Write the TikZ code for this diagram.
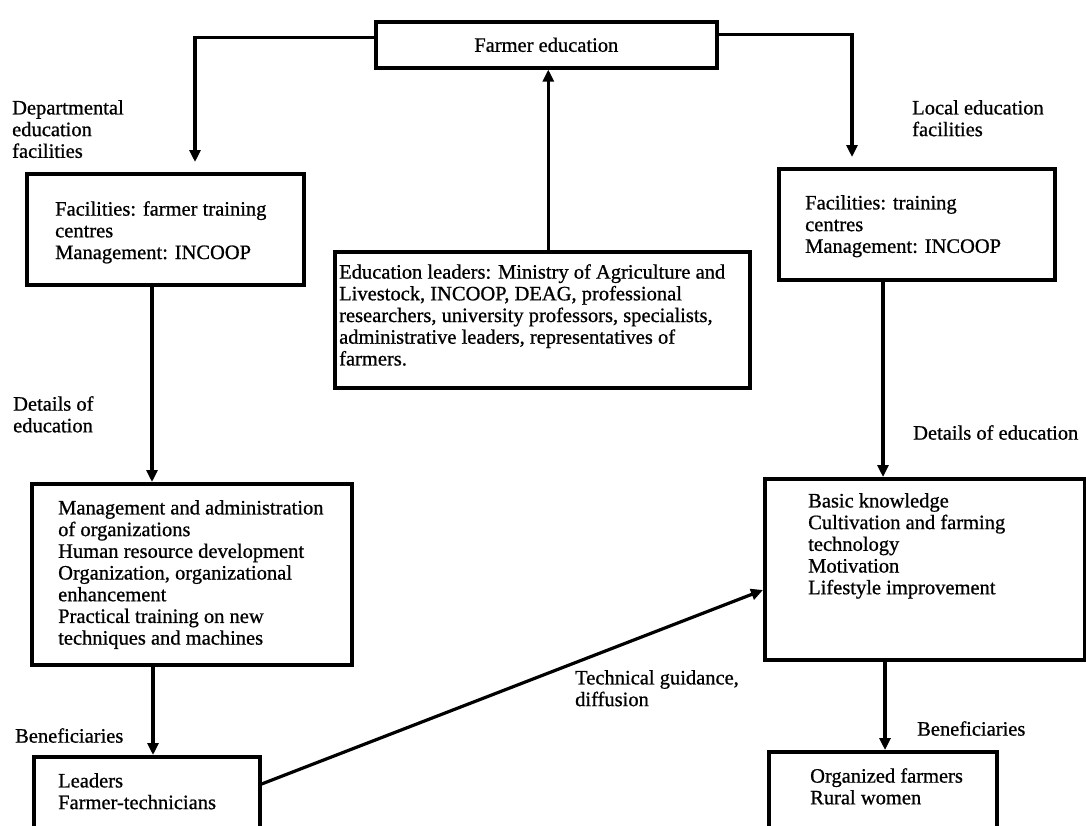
\documentclass[tikz,border=0pt]{standalone}
\usepackage{fontspec}
\setmainfont[FakeBold=0.8]{Liberation Serif}
\usetikzlibrary{arrows.meta,calc}
\begin{document}
\begin{tikzpicture}[x=1pt,y=-1pt,
  box/.style={draw, line width=3.6pt, rectangle, inner sep=0pt, anchor=north west},
  conn/.style={line width=3.2pt, -{Triangle[length=12pt,width=11pt]}},
  txt/.style={anchor=north west, inner sep=0pt, align=left, font=\fontsize{20.5}{21.7}\selectfont}]
\clip (0,0) rectangle (1086,825);
\fill[white] (0,0) rectangle (1086,825);
% boxes
\node[box, minimum width=341pt, minimum height=46pt] (fe) at (374,20) {};
\node[box, minimum width=277pt, minimum height=111pt] (ldf) at (25,172) {};
\node[box, minimum width=415pt, minimum height=136pt] (el) at (333,250) {};
\node[box, minimum width=276pt, minimum height=111pt] (lef) at (777,167) {};
\node[box, minimum width=320pt, minimum height=181pt] (ldet) at (30,482) {};
\node[box, minimum width=320pt, minimum height=181pt] (rdet) at (763,477) {};
\node[box, minimum width=226pt, minimum height=120pt] (lben) at (32,755) {};
\node[box, minimum width=228pt, minimum height=120pt] (rben) at (767,750) {};
% box texts
\node[txt, anchor=center] (feT) at (fe.center) {Farmer education};
\node[txt] (ldfT) at (55,201) {Facilities: farmer training\\centres\\Management: INCOOP};
\node[txt] (elT) at (339,264) {Education leaders: Ministry of Agriculture and\\Livestock, INCOOP, DEAG, professional\\researchers, university professors, specialists,\\administrative leaders, representatives of\\farmers.};
\node[txt] (lefT) at (805,195) {Facilities: training\\centres\\Management: INCOOP};
\node[txt] (ldetT) at (58,500) {Management and administration\\of organizations\\Human resource development\\Organization, organizational\\enhancement\\Practical training on new\\techniques and machines};
\node[txt] (rdetT) at (808,493) {Basic knowledge\\Cultivation and farming\\technology\\Motivation\\Lifestyle improvement};
\node[txt] (lbenT) at (58,773) {Leaders\\Farmer-technicians};
\node[txt] (rbenT) at (810,768) {Organized farmers\\Rural women};
% labels
\node[txt] (lab1) at (12,100) {Departmental\\education\\facilities};
\node[txt] (lab2) at (912,100) {Local education\\facilities};
\node[txt] (lab3) at (13,396) {Details of\\education};
\node[txt] (lab4) at (913,425) {Details of education};
\node[txt] (lab5) at (15,728) {Beneficiaries};
\node[txt] (lab6) at (917,721) {Beneficiaries};
\node[txt] (lab7) at (575,670) {Technical guidance,\\diffusion};
% connectors
\draw[conn] ([yshift=7pt]fe.west) -| ($(ldf.north west)+(170,-10)$);
\draw[conn] ([yshift=10pt]fe.east) -| ($(lef.north west)+(75,-10)$);
\coordinate (c1) at ($(el.north)+(6,0)$);
\draw[conn] (c1) -- (c1 |- fe.south);
\coordinate (c2) at ($(ldf.south west)+(127,0)$);
\draw[conn] (c2) -- (c2 |- ldet.north);
\coordinate (c3) at ($(ldet.south west)+(123,0)$);
\draw[conn] (c3) -- (c3 |- lben.north);
\coordinate (c4) at ($(lef.south west)+(106,0)$);
\draw[conn] (c4) -- (c4 |- rdet.north);
\coordinate (c5) at ($(rdet.south west)+(122,0)$);
\draw[conn] (c5) -- (c5 |- rben.north);
\draw[conn] ($(lben.north east)+(0,29)$) -- ($(rdet.north west)+(0,113)$);
\end{tikzpicture}
\end{document}
